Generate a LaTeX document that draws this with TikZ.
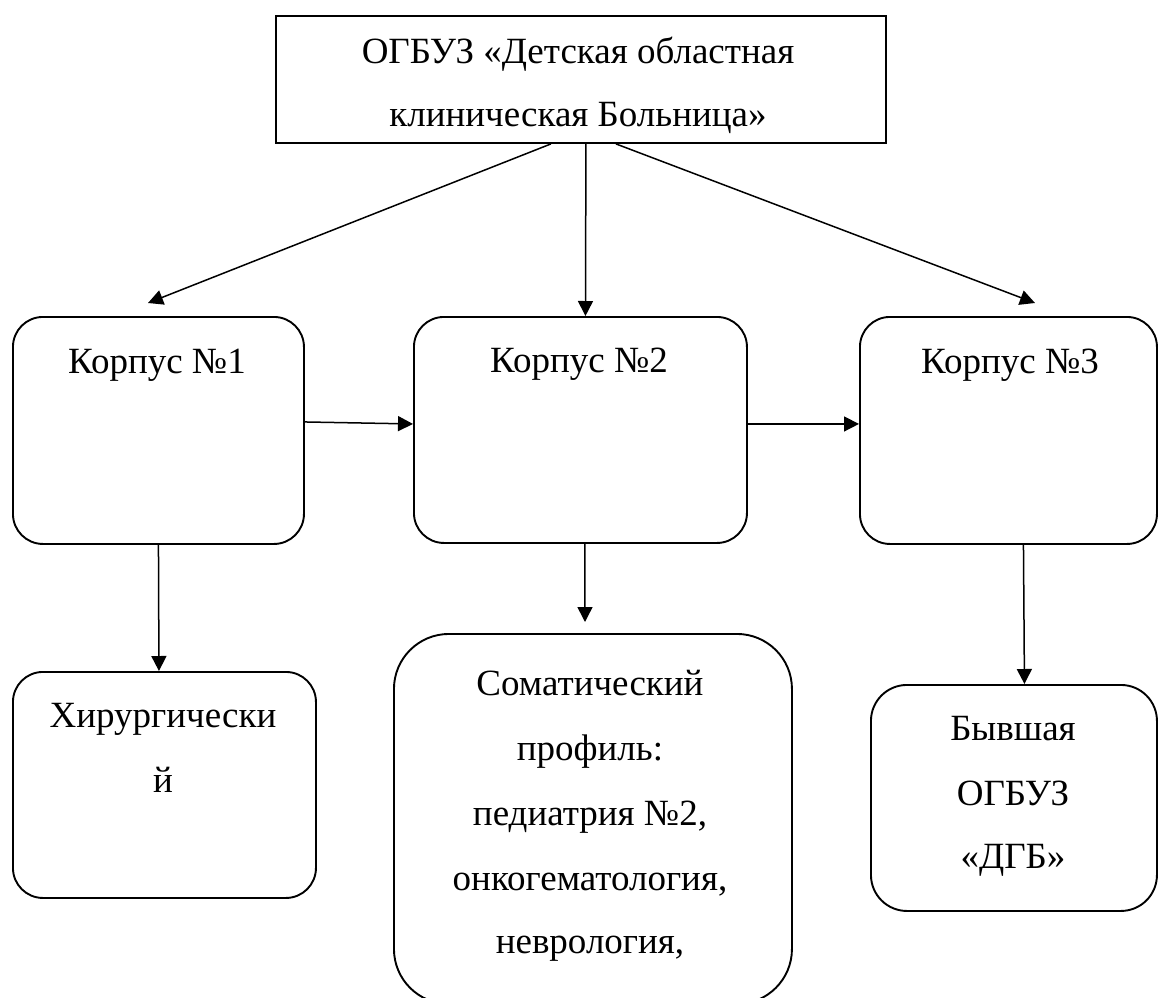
\documentclass[tikz,border=0pt]{standalone}
\usepackage{fontspec}
\setmainfont{Liberation Serif}
\usetikzlibrary{arrows.meta}
\begin{document}
\begin{tikzpicture}[x=1bp,y=-1bp,
  box/.style={draw, line width=1.9bp, rounded corners=#1, inner sep=0pt, anchor=north west},
  box/.default=30bp,
  txt/.style={font=\fontsize{37bp}{44bp}\selectfont, inner sep=0pt, anchor=base},
  arr/.style={line width=1.5bp, -{Triangle[length=15bp,width=15bp]}}]
\useasboundingbox (0,0) rectangle (1159,998);
% boxes
\node[box=0bp, minimum width=610bp, minimum height=127bp] (top) at (275,15) {};
\node[box, minimum width=291bp, minimum height=227bp] (k1) at (12,316) {};
\node[box, minimum width=333bp, minimum height=226bp] (k2) at (413,316) {};
\node[box, minimum width=297bp, minimum height=227bp] (k3) at (859,316) {};
\node[box, minimum width=303bp, minimum height=226bp] (b1) at (12,671) {};
\node[box=55bp, minimum width=398bp, minimum height=370bp] (b2) at (393,633) {};
\node[box=36bp, minimum width=286bp, minimum height=226bp] (b3) at (870,684) {};
% texts
\node[txt] (t0a) at (578,63) {ОГБУЗ «Детская областная};
\node[txt] (t0b) at (578,126) {клиническая Больница»};
\node[txt] (t1) at (157,373) {Корпус №1};
\node[txt] (t2) at (579,372) {Корпус №2};
\node[txt] (t3) at (1010,373) {Корпус №3};
\node[txt] (u1a) at (163,727) {Хирургически};
\node[txt] (u1b) at (163,792) {й};
\node[txt] (u2a) at (590,695) {Соматический};
\node[txt] (u2b) at (590,760) {профиль:};
\node[txt] (u2c) at (590,825) {педиатрия №2,};
\node[txt] (u2d) at (590,890) {онкогематология,};
\node[txt] (u2e) at (590,953) {неврология,};
\node[txt] (u3a) at (1013,740) {Бывшая};
\node[txt] (u3b) at (1013,805) {ОГБУЗ};
\node[txt] (u3c) at (1013,868) {«ДГБ»};
% connector end points
\coordinate (c1) at (148,303);
\coordinate (c3) at (1035,303);
\coordinate (c2) at (585,622);
% connectors
\draw[arr] ([xshift=-30bp]top.south) -- (c1);
\draw[arr] ([xshift=5bp]top.south) -- ([xshift=5bp]k2.north);
\draw[arr] ([xshift=35bp]top.south) -- (c3);
\draw[arr] ([yshift=8.5bp]k1.east) -- ([yshift=6bp]k2.west);
\draw[arr] ([yshift=6bp]k2.east) -- ([yshift=6.5bp]k3.west);
\draw[arr] (k1.south) -- ([xshift=-5.5bp]b1.north);
\draw[arr] ([xshift=4.5bp]k2.south) -- (c2);
\draw[arr] ([xshift=15bp]k3.south) -- ([xshift=10.5bp]b3.north);
\end{tikzpicture}
\end{document}
